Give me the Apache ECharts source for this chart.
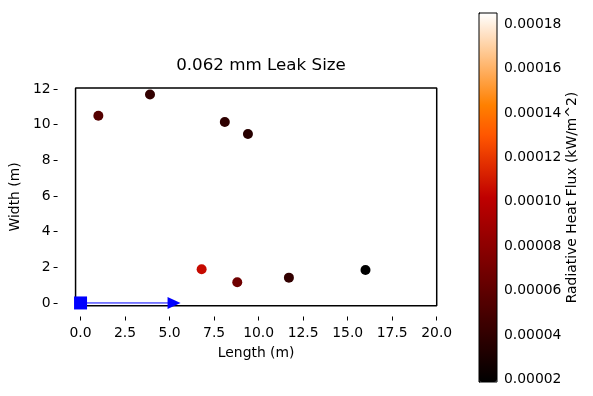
<!DOCTYPE html>
<html>
<head>
<meta charset="utf-8">
<script src="https://cdn.jsdelivr.net/npm/echarts@6/dist/echarts.min.js"></script>
<style>html,body{margin:0;padding:0;background:#fff}#c{width:593px;height:396px}</style>
</head>
<body>
<div id="c"></div>
<script>
// ---- data ----
const lengths = [0, 1.0, 3.9, 8.1, 9.4, 6.8, 8.8, 11.7, 16.0];
const widths  = [0, 10.5, 11.7, 10.15, 9.48, 1.89, 1.16, 1.42, 1.85];
const fluxes  = [0.000185, 0.0000550, 0.0000405, 0.0000385, 0.0000355, 0.000105, 0.0000670, 0.0000405, 0.0000188];
const leakPos = [0, 0];
const arrowEnd = [5.25, 0];
const roomX = [-0.28, 20];
const roomY = [-0.16, 12.06];
const xTicks = [0, 2.5, 5, 7.5, 10, 12.5, 15, 17.5, 20];
const yTicks = [0, 2, 4, 6, 8, 10, 12];
const cbTicks = [0.00002, 0.00004, 0.00006, 0.00008, 0.00010, 0.00012, 0.00014, 0.00016, 0.00018];
const fluxMin = 0.0000188, fluxMax = 0.000185;
const title = '0.062 mm Leak Size';

// gist_heat colormap stops
function gistHeat(x){
  const c = v => Math.round(Math.max(0, Math.min(1, v)) * 255);
  return 'rgb(' + c(1.5*x) + ',' + c(2*x-1) + ',' + c(4*x-3) + ')';
}
const cmap = [];
for (let k = 0; k <= 12; k++) cmap.push(gistHeat(k/12));

const roomOutline = [
  [roomX[0], roomY[0]], [roomX[1], roomY[0]], [roomX[1], roomY[1]], [roomX[0], roomY[1]], [roomX[0], roomY[0]]
];

const FONT = 'DejaVu Sans';
const tickFs = 13.9;
const chart = echarts.init(document.getElementById('c'));
chart.setOption({
  animation: false,
  textStyle: {fontFamily: FONT, color: '#000'},
  title: {text: title, left: 256, top: 52, textAlign: 'center',
    textStyle: {fontFamily: FONT, fontSize: 16.7, fontWeight: 'normal', color: '#000'}},
  grid: [
    {left: 57, top: 77.3, width: 397.7, height: 239.2, show: false, containLabel: false},
    {left: 479, top: 13, width: 18, height: 369, show: true, borderColor: '#000', borderWidth: 1, backgroundColor: 'transparent', z: 10}
  ],
  xAxis: [
    {gridIndex: 0, type: 'value', min: -1.29, max: 21.01, name: 'Length (m)', nameLocation: 'middle', nameGap: 30,
      nameTextStyle: {fontFamily: FONT, fontSize: tickFs, color: '#000'},
      axisLine: {show: false, onZero: false},
      axisTick: {show: true, length: 4, customValues: xTicks, lineStyle: {color: '#000'}},
      axisLabel: {customValues: xTicks, formatter: v => v.toFixed(1), fontFamily: FONT, fontSize: tickFs, color: '#000', margin: 10},
      splitLine: {show: false}},
    {gridIndex: 1, type: 'value', show: false, min: 0, max: 1}
  ],
  yAxis: [
    {gridIndex: 0, type: 'value', min: -0.76, max: 12.66, name: 'Width (m)', nameLocation: 'middle', nameGap: 31, nameRotate: 90,
      nameTextStyle: {fontFamily: FONT, fontSize: tickFs, color: '#000'},
      axisLine: {show: false, onZero: false},
      axisTick: {show: true, length: 4, customValues: yTicks, lineStyle: {color: '#000'}},
      axisLabel: {customValues: yTicks, formatter: v => String(v), fontFamily: FONT, fontSize: tickFs, color: '#000', margin: 7},
      splitLine: {show: false}},
    {gridIndex: 1, type: 'value', position: 'right', min: fluxMin, max: fluxMax,
      name: 'Radiative Heat Flux (kW/m^2)', nameLocation: 'middle', nameGap: 75, nameRotate: 90,
      nameTextStyle: {fontFamily: FONT, fontSize: tickFs, color: '#000', verticalAlign: 'bottom'},
      axisLine: {show: true, lineStyle: {color: '#000'}},
      axisTick: {show: true, length: 4, customValues: cbTicks, lineStyle: {color: '#000'}},
      axisLabel: {customValues: cbTicks, formatter: v => v.toFixed(5), fontFamily: FONT, fontSize: tickFs, color: '#000', margin: 7},
      splitLine: {show: false}}
  ],
  visualMap: {
    type: 'continuous', seriesIndex: 0, dimension: 2, min: fluxMin, max: fluxMax,
    calculable: false, showLabel: false, text: null, left: 479, top: 13, itemWidth: 18, itemHeight: 369,
    padding: 0, inRange: {color: cmap}, z: 4
  },
  series: [
    {type: 'scatter', xAxisIndex: 0, yAxisIndex: 0, symbolSize: 10, z: 3,
      itemStyle: {opacity: 1},
      data: lengths.map((x, i) => [x, widths[i], fluxes[i]])},
    {type: 'line', xAxisIndex: 0, yAxisIndex: 0, data: roomOutline, z: 2, silent: true,
      lineStyle: {color: '#000', width: 1.5}, symbol: 'none'},
    {type: 'line', xAxisIndex: 0, yAxisIndex: 0, data: [leakPos, arrowEnd], z: 4,
      lineStyle: {color: '#0000ff', width: 1}, symbol: 'none'},
    {type: 'scatter', xAxisIndex: 0, yAxisIndex: 0, data: [arrowEnd], z: 5,
      symbol: 'path://M0,0 L10,5 L0,10 Z', symbolSize: [13, 12], itemStyle: {color: '#0000ff', opacity: 1}},
    {type: 'scatter', xAxisIndex: 0, yAxisIndex: 0, data: [leakPos], z: 6,
      symbol: 'rect', symbolSize: 13, itemStyle: {color: '#0000ff', opacity: 1}}
  ]
});
</script>
</body>
</html>
